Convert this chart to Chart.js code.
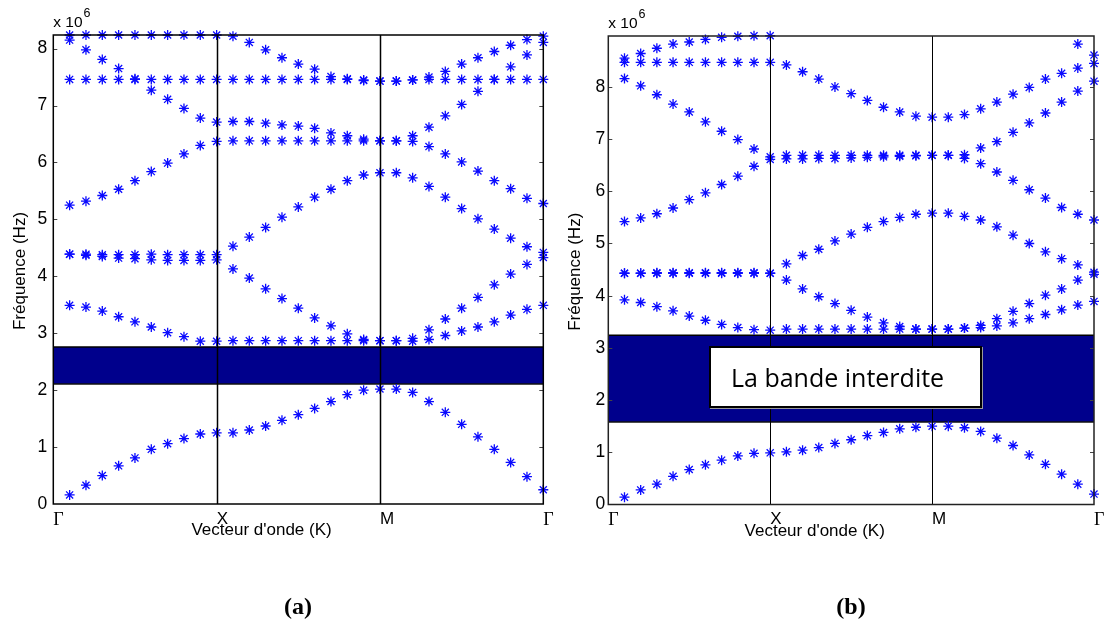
<!DOCTYPE html>
<html>
<head>
<meta charset="utf-8">
<script src="https://cdn.jsdelivr.net/npm/chart.js@4.4.1/dist/chart.umd.min.js"></script>
<style>
  html, body { margin: 0; padding: 0; background: #fff; }
  #wrap { position: relative; width: 1105px; height: 627px; overflow: hidden; }
  #wrap canvas { position: absolute; top: 0; }
  #cA { left: 0; }
  #cB { left: 555px; }
  .cap { position: absolute; top: 593px; transform: translateX(-50%);
         font: bold 24px "Liberation Serif", serif; color: #000; }
  #gapLabel { position: absolute; left: 709px; top: 346px; width: 273px; height: 62px;
              box-sizing: border-box; border: 2px solid #000; background: #fff;
              box-shadow: 1px 1px 0 #999; display: flex; align-items: center;
              padding-left: 20px; font: 25px "Open Sans", sans-serif; color: #000; }
</style>
</head>
<body>
<div id="wrap">
  <canvas id="cA" width="555" height="627"></canvas>
  <canvas id="cB" width="550" height="627"></canvas>
  <div class="cap" style="left:298px">(a)</div>
  <div class="cap" style="left:851px">(b)</div>
  <div id="gapLabel">La bande interdite</div>
</div>
<script>
// Wave-vector sampling along the path Γ → X → M → Γ (10 steps per segment)
const kPoints = [1, 2, 3, 4, 5, 6, 7, 8, 9, 10,
                 11, 12, 13, 14, 15, 16, 17, 18, 19, 20,
                 21, 22, 23, 24, 25, 26, 27, 28, 29, 30];
const symPoints = [0, 10, 20, 30];
const symLabels = ['Γ', 'X', 'M', 'Γ'];
const freqTicks = [0, 1, 2, 3, 4, 5, 6, 7, 8];   // in units of 10^6 Hz

// Structure (a): eigenfrequencies (x 10^6 Hz)
const bandA1 = [0.16, 0.33, 0.50, 0.67, 0.81, 0.96, 1.06, 1.15, 1.23, 1.25,
                1.25, 1.30, 1.37, 1.47, 1.57, 1.68, 1.80, 1.92, 2.00, 2.02,
                2.02, 1.96, 1.80, 1.61, 1.40, 1.18, 0.96, 0.73, 0.48, 0.25];
const bandA2 = [3.49, 3.46, 3.39, 3.29, 3.20, 3.11, 3.01, 2.94, 2.86, 2.86,
                2.87, 2.87, 2.87, 2.87, 2.87, 2.87, 2.87, 2.87, 2.87, 2.87,
                2.87, 2.86, 2.89, 2.96, 3.04, 3.11, 3.20, 3.32, 3.42, 3.49];
const bandA3 = [4.39, 4.37, 4.35, 4.32, 4.31, 4.29, 4.28, 4.28, 4.28, 4.29,
                4.13, 3.97, 3.78, 3.61, 3.44, 3.27, 3.13, 2.99, 2.89, 2.87,
                2.87, 2.91, 3.06, 3.25, 3.44, 3.63, 3.85, 4.04, 4.21, 4.33];
const bandA4 = [4.39, 4.39, 4.38, 4.38, 4.38, 4.39, 4.38, 4.38, 4.38, 4.38,
                4.53, 4.69, 4.86, 5.04, 5.22, 5.39, 5.53, 5.68, 5.78, 5.82,
                5.82, 5.73, 5.58, 5.39, 5.19, 5.01, 4.83, 4.67, 4.52, 4.42];
const bandA5 = [5.25, 5.32, 5.42, 5.53, 5.68, 5.84, 5.99, 6.15, 6.30, 6.37,
                6.38, 6.38, 6.38, 6.38, 6.38, 6.38, 6.38, 6.38, 6.38, 6.38,
                6.38, 6.37, 6.28, 6.15, 6.01, 5.85, 5.68, 5.54, 5.37, 5.28];
const bandA6 = [8.15, 7.98, 7.81, 7.65, 7.47, 7.27, 7.11, 6.95, 6.78, 6.71,
                6.72, 6.72, 6.69, 6.66, 6.64, 6.60, 6.52, 6.47, 6.41, 6.38,
                6.38, 6.47, 6.62, 6.82, 7.02, 7.25, 7.46, 7.68, 7.89, 8.11];
const bandA7 = [7.46, 7.46, 7.46, 7.46, 7.46, 7.46, 7.46, 7.46, 7.46, 7.46,
                7.46, 7.46, 7.46, 7.46, 7.46, 7.46, 7.46, 7.46, 7.44, 7.43,
                7.43, 7.45, 7.46, 7.46, 7.46, 7.46, 7.46, 7.46, 7.46, 7.46];
const bandA8 = [8.24, 8.24, 8.24, 8.24, 8.24, 8.24, 8.24, 8.24, 8.24, 8.24,
                8.22, 8.11, 7.98, 7.84, 7.73, 7.64, 7.51, 7.47, 7.45, 7.43,
                7.43, 7.45, 7.50, 7.60, 7.73, 7.84, 7.95, 8.06, 8.16, 8.22];
const gapA = [2.11, 2.76];
const yMaxA = 8.24;

// Structure (b): eigenfrequencies (x 10^6 Hz); null = above the plotted range
const bandB1 = [0.14, 0.28, 0.39, 0.54, 0.67, 0.76, 0.85, 0.93, 0.98, 0.99,
                1.01, 1.04, 1.09, 1.17, 1.24, 1.32, 1.38, 1.45, 1.48, 1.50,
                1.50, 1.47, 1.40, 1.27, 1.13, 0.95, 0.77, 0.58, 0.39, 0.20];
const bandB2 = [3.92, 3.87, 3.79, 3.71, 3.61, 3.53, 3.45, 3.39, 3.35, 3.34,
                3.36, 3.36, 3.36, 3.36, 3.36, 3.36, 3.36, 3.36, 3.36, 3.36,
                3.36, 3.38, 3.39, 3.42, 3.48, 3.56, 3.64, 3.73, 3.82, 3.89];
const bandB3 = [4.43, 4.43, 4.43, 4.43, 4.43, 4.43, 4.43, 4.43, 4.43, 4.43,
                4.30, 4.13, 3.98, 3.85, 3.72, 3.59, 3.48, 3.41, 3.36, 3.36,
                3.36, 3.38, 3.43, 3.56, 3.70, 3.85, 4.01, 4.13, 4.30, 4.41];
const bandB4 = [4.43, 4.43, 4.44, 4.44, 4.44, 4.44, 4.44, 4.44, 4.44, 4.43,
                4.61, 4.77, 4.89, 5.05, 5.18, 5.31, 5.42, 5.50, 5.56, 5.58,
                5.58, 5.52, 5.45, 5.32, 5.16, 5.00, 4.84, 4.71, 4.59, 4.45];
const bandB5 = [5.42, 5.49, 5.57, 5.68, 5.84, 5.97, 6.13, 6.29, 6.48, 6.61,
                6.62, 6.62, 6.63, 6.63, 6.64, 6.65, 6.66, 6.67, 6.68, 6.69,
                6.69, 6.63, 6.53, 6.37, 6.21, 6.03, 5.87, 5.69, 5.56, 5.45];
const bandB6 = [8.16, 8.02, 7.85, 7.67, 7.52, 7.33, 7.15, 6.99, 6.81, 6.66,
                6.69, 6.69, 6.69, 6.69, 6.69, 6.69, 6.69, 6.69, 6.69, 6.69,
                6.69, 6.70, 6.83, 6.95, 7.13, 7.31, 7.50, 7.71, 7.92, 8.11];
const bandB7 = [8.47, 8.47, 8.47, 8.47, 8.47, 8.47, 8.47, 8.47, 8.47, 8.47,
                8.42, 8.29, 8.15, 8.00, 7.87, 7.74, 7.61, 7.52, 7.44, 7.42,
                7.42, 7.47, 7.58, 7.71, 7.86, 7.99, 8.15, 8.26, 8.36, 8.45];
const bandB8 = [8.55, 8.64, 8.74, 8.82, 8.86, 8.91, 8.95, 8.97, 8.98, 8.98,
                null, null, null, null, null, null, null, null, null, null,
                null, null, null, null, null, null, null, null, 8.82, 8.61];
const gapB = [1.58, 3.24];
const yMaxB = 8.975;

const SANS = '"Liberation Sans", Arial, Helvetica, sans-serif';
const SERIF = '"Liberation Serif", "Times New Roman", serif';

// Frame, symmetry-point verticals, inner ticks and axis texts
const panelDecor = {
  id: 'panelDecor',
  afterDatasetsDraw(chart, args, o) {
    const { ctx, chartArea: a, scales: { x, y } } = chart;
    ctx.save();
    ctx.strokeStyle = '#000';
    ctx.lineWidth = o.symWidth;
    symPoints.slice(1, -1).forEach(v => {
      const px = Math.round(x.getPixelForValue(v)) + 0.5;
      ctx.beginPath(); ctx.moveTo(px, a.top); ctx.lineTo(px, a.bottom); ctx.stroke();
    });
    ctx.strokeStyle = '#444';
    ctx.lineWidth = 1;
    y.ticks.forEach(t => {
      const py = Math.round(y.getPixelForValue(t.value)) + 0.5;
      if (py < a.top + 2 || py > a.bottom - 2) return;
      ctx.beginPath();
      ctx.moveTo(a.left, py); ctx.lineTo(a.left + 4, py);
      ctx.moveTo(a.right - 4, py); ctx.lineTo(a.right, py);
      ctx.stroke();
    });
    ctx.strokeStyle = o.frameColor;
    ctx.lineWidth = o.frameWidth;
    ctx.strokeRect(a.left, a.top, a.right - a.left, a.bottom - a.top);
    ctx.restore();
  },
  afterDraw(chart) {
    const { ctx, chartArea: a } = chart;
    ctx.save();
    ctx.fillStyle = '#000';
    ctx.textAlign = 'left';
    ctx.textBaseline = 'alphabetic';
    ctx.font = '15.5px ' + SANS;
    ctx.fillText('x 10', a.left, a.top - 8.5);
    const w = ctx.measureText('x 10').width;
    ctx.font = '12.5px ' + SANS;
    ctx.fillText('6', a.left + w + 1, a.top - 18.5);

    ctx.font = '17px ' + SANS;
    ctx.save();
    ctx.translate(a.left - 28.5, (a.top + a.bottom) / 2 + 1.5);
    ctx.rotate(-Math.PI / 2);
    ctx.textAlign = 'center';
    ctx.fillText('Fréquence (Hz)', 0, 0);
    ctx.restore();

    ctx.textAlign = 'center';
    ctx.fillText("Vecteur d'onde (K)", a.left + 0.425 * (a.right - a.left), a.bottom + 31);
    ctx.restore();
  }
};

function bandDataset(vals) {
  const pts = [];
  vals.forEach((v, i) => { if (v !== null) pts.push({ x: kPoints[i], y: v }); });
  return {
    type: 'scatter',
    data: pts,
    showLine: false,
    pointStyle: 'star',
    pointRadius: 5,
    pointBorderWidth: 1.3,
    borderColor: '#0a0aff',
    backgroundColor: '#0a0aff',
    clip: false
  };
}

function gapDatasets(gap) {
  const xs = [symPoints[0], symPoints[symPoints.length - 1]];
  return [
    { type: 'line', data: xs.map(x => ({ x, y: gap[1] })), borderColor: '#000',
      borderWidth: 1.5, pointRadius: 0, fill: false, clip: false },
    { type: 'line', data: xs.map(x => ({ x, y: gap[0] })), borderColor: '#111',
      borderWidth: 1.5, pointRadius: 0, fill: '-1', backgroundColor: 'rgb(0,0,140)', clip: false }
  ];
}

function makePanel(id, bands, gap, yMax, g) {
  return new Chart(document.getElementById(id), {
    type: 'scatter',
    data: { datasets: bands.map(bandDataset).concat(gapDatasets(gap)) },
    options: {
      responsive: false,
      animation: false,
      devicePixelRatio: 1,
      layout: { padding: { left: 0, right: g.padRight, top: g.top, bottom: g.padBottom } },
      plugins: {
        legend: { display: false },
        tooltip: { enabled: false },
        panelDecor: { symWidth: g.symWidth, frameWidth: g.frameWidth, frameColor: g.frameColor }
      },
      scales: {
        x: {
          type: 'linear', min: symPoints[0], max: symPoints[symPoints.length - 1],
          afterBuildTicks: s => { s.ticks = symPoints.map(v => ({ value: v })); },
          afterFit: s => { s.height = 40; s.paddingLeft = 0; s.paddingRight = 0; },
          grid: { display: false, drawTicks: false }, border: { display: false },
          ticks: {
            autoSkip: false, maxRotation: 0, minRotation: 0, align: 'start', padding: 5, color: '#000',
            callback: (v, i) => symLabels[i],
            font: c => symLabels[c.index] === 'Γ' ? { family: SERIF, size: 18 } : { family: SANS, size: 17 }
          }
        },
        y: {
          type: 'linear', min: 0, max: yMax,
          afterBuildTicks: s => { s.ticks = freqTicks.map(v => ({ value: v })); },
          afterFit: s => { s.width = 53.3; s.paddingTop = 0; s.paddingBottom = 0; },
          grid: { display: false, drawTicks: false }, border: { display: false },
          ticks: { padding: g.tickPad, color: '#000', font: { family: SANS, size: 17.5 },
                   callback: v => String(v) }
        }
      }
    },
    plugins: [panelDecor]
  });
}

makePanel('cA', [bandA1, bandA2, bandA3, bandA4, bandA5, bandA6, bandA7, bandA8], gapA, yMaxA,
  { padRight: 11.7, top: 35, padBottom: 83, tickPad: 6, symWidth: 1.5, frameWidth: 1.5, frameColor: '#000' });
makePanel('cB', [bandB1, bandB2, bandB3, bandB4, bandB5, bandB6, bandB7, bandB8], gapB, yMaxB,
  { padRight: 11, top: 36, padBottom: 82.5, tickPad: 3, symWidth: 1, frameWidth: 1.5, frameColor: '#222' });
</script>
</body>
</html>
